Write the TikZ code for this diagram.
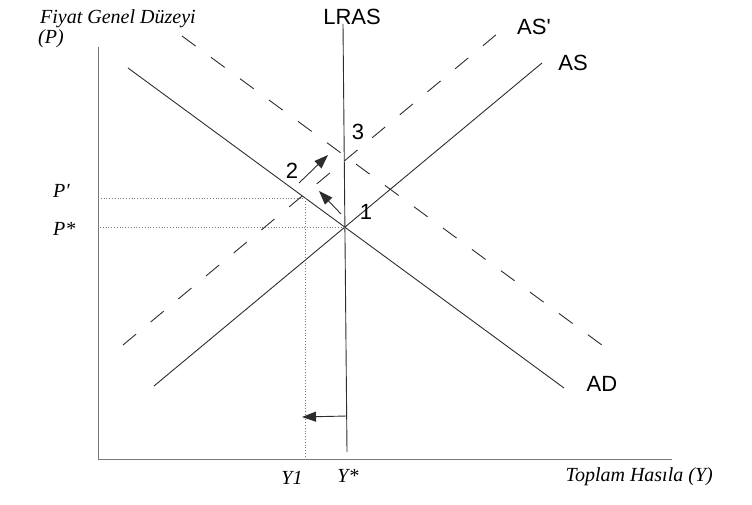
\documentclass[tikz,border=0pt]{standalone}
\usepackage{fontspec}
\setmainfont{Liberation Serif}
\setsansfont{Liberation Sans}
\usetikzlibrary{arrows.meta,positioning}
\definecolor{axisgray}{RGB}{120,120,120}
\definecolor{linegray}{RGB}{45,45,45}

\begin{document}
\begin{tikzpicture}[x=1pt, y=-1pt,
  curve/.style={draw=linegray, line width=0.9pt},
  dcurve/.style={curve, dash pattern=on 17pt off 19pt},
  guide/.style={draw=axisgray, dotted, line width=0.8pt},
  lbl/.style={font=\sffamily\fontsize{22}{24}\selectfont, inner sep=0pt},
  axlbl/.style={font=\itshape\fontsize{20}{22}\selectfont, inner sep=0pt},
  arr/.style={-{Triangle[length=14pt,width=10pt]}, line width=0.9pt, draw=linegray}
]
\useasboundingbox (0,0) rectangle (752,505);

% axes
\coordinate (O) at (98,459);
\coordinate (ytop) at (98,47);
\coordinate (xend) at (672,459);
\draw[axisgray, line width=1pt] (ytop) -- (O) -- (xend);

% curves
\coordinate (lrasT) at (343,24);
\coordinate (lrasB) at (347,452);
\coordinate (asA) at (154,386);
\coordinate (asB) at (542,63);
\coordinate (asA2) at (123,345);
\coordinate (asB2) at (503,29);
\coordinate (adA) at (128,68);
\coordinate (adB) at (564,388);
\coordinate (adA2) at (182,36);
\coordinate (adB2) at (610,351);
\draw[curve] (lrasT) -- (lrasB);
\draw[curve] (asA) -- (asB);
\draw[curve] (adA) -- (adB);
\draw[dcurve] (asA2) -- (asB2);
\draw[dcurve] (adA2) -- (adB2);

% guides
\coordinate (pS) at (100,227);
\coordinate (eq) at (344,227);
\coordinate (pP) at (98,198);
\coordinate (short) at (305,198);
\coordinate (y1) at (305,461);
\draw[guide] (pS) -- (eq);
\draw[guide] (pP) -- (short) -- (y1);

% arrows
\coordinate (a1s) at (341,214);
\coordinate (a1e) at (319,191);
\coordinate (a2s) at (299,183);
\coordinate (a2e) at (328,155);
\coordinate (a3s) at (347,416);
\coordinate (a3e) at (302,417);
\draw[arr] (a1s) -- (a1e);
\draw[arr] (a2s) -- (a2e);
\draw[arr] (a3s) -- (a3e);

% labels
\node[lbl] (lras) at (352,17) {LRAS};
\node[lbl] (asp) at (534,27) {AS\textquotesingle};
\node[lbl] (as) at (573,63) {AS};
\node[lbl] (ad) at (602,384) {AD};
\node[lbl] (n3) at (358,132) {3};
\node[lbl] (n2) at (292,171) {2};
\node[lbl] (n1) at (366,212) {1};
\node[axlbl, anchor=base west] (pprime) at (53,198) {P\char"2032};
\node[axlbl, anchor=base west] (pstar) at (53,236) {P*};
\node[axlbl, anchor=base] (ly1) at (292,484) {Y1};
\node[axlbl, anchor=base] (lystar) at (348,482) {Y*};
\node[axlbl, anchor=base west] (ytitle) at (40,24) {Fiyat Genel Düzeyi};
\node[axlbl, anchor=base west] (ytitle2) at (38,44) {(P)};
\node[axlbl, anchor=base east] (xtitle) at (713,481) {Toplam Hasıla (Y)};
\end{tikzpicture}
\end{document}
